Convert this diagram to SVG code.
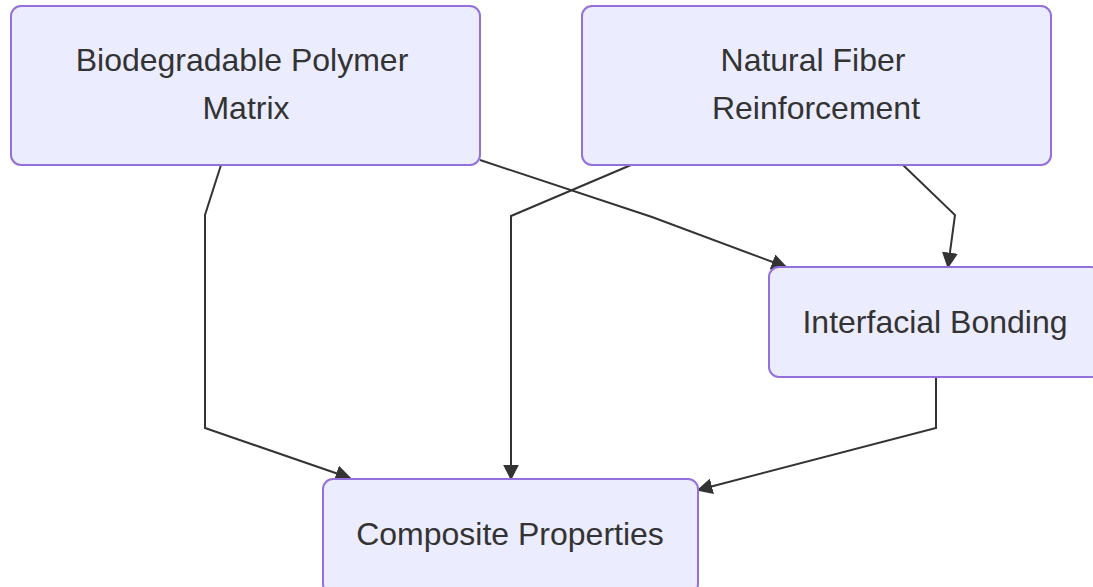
<svg xmlns="http://www.w3.org/2000/svg" width="1093" height="587" viewBox="0 0 1093 587">
<style>
.node rect{fill:#ECECFF;stroke:#9370DB;stroke-width:2}
.node text{font-family:"Liberation Sans",Arial,sans-serif;font-size:32px;fill:#333;text-anchor:middle}
.edges path{fill:none;stroke:#333;stroke-width:2}
</style>
<defs>
<marker id="arrow" viewBox="0 0 10 10" refX="9" refY="5" markerWidth="16" markerHeight="16" markerUnits="userSpaceOnUse" orient="auto">
<path d="M0,0 L10,5 L0,10 z" fill="#333"/>
</marker>
</defs>
<rect width="1093" height="587" fill="#fff"/>
<g class="edges">
<path d="M221,165 L205,215 L205,428 L350,478" marker-end="url(#arrow)"/>
<path d="M480,160 L652,217 L786,267" marker-end="url(#arrow)"/>
<path d="M631,165 L511,216 L511,479" marker-end="url(#arrow)"/>
<path d="M903,165 L955,215 L948,267" marker-end="url(#arrow)"/>
<path d="M936,377 L936,428 L698,490" marker-end="url(#arrow)"/>
</g>
<g id="node-matrix" class="node">
<rect x="11" y="6" width="469" height="159" rx="10"/>
<text x="242" y="71">Biodegradable Polymer</text>
<text x="246" y="119">Matrix</text>
</g>
<g id="node-fiber" class="node">
<rect x="582" y="6" width="469" height="159" rx="10"/>
<text x="813" y="71">Natural Fiber</text>
<text x="816" y="119">Reinforcement</text>
</g>
<g id="node-bonding" class="node">
<rect x="769" y="267" width="332" height="110" rx="10"/>
<text x="935" y="333">Interfacial Bonding</text>
</g>
<g id="node-composite" class="node">
<rect x="323" y="479" width="375" height="115" rx="10"/>
<text x="510" y="545">Composite Properties</text>
</g>
</svg>
